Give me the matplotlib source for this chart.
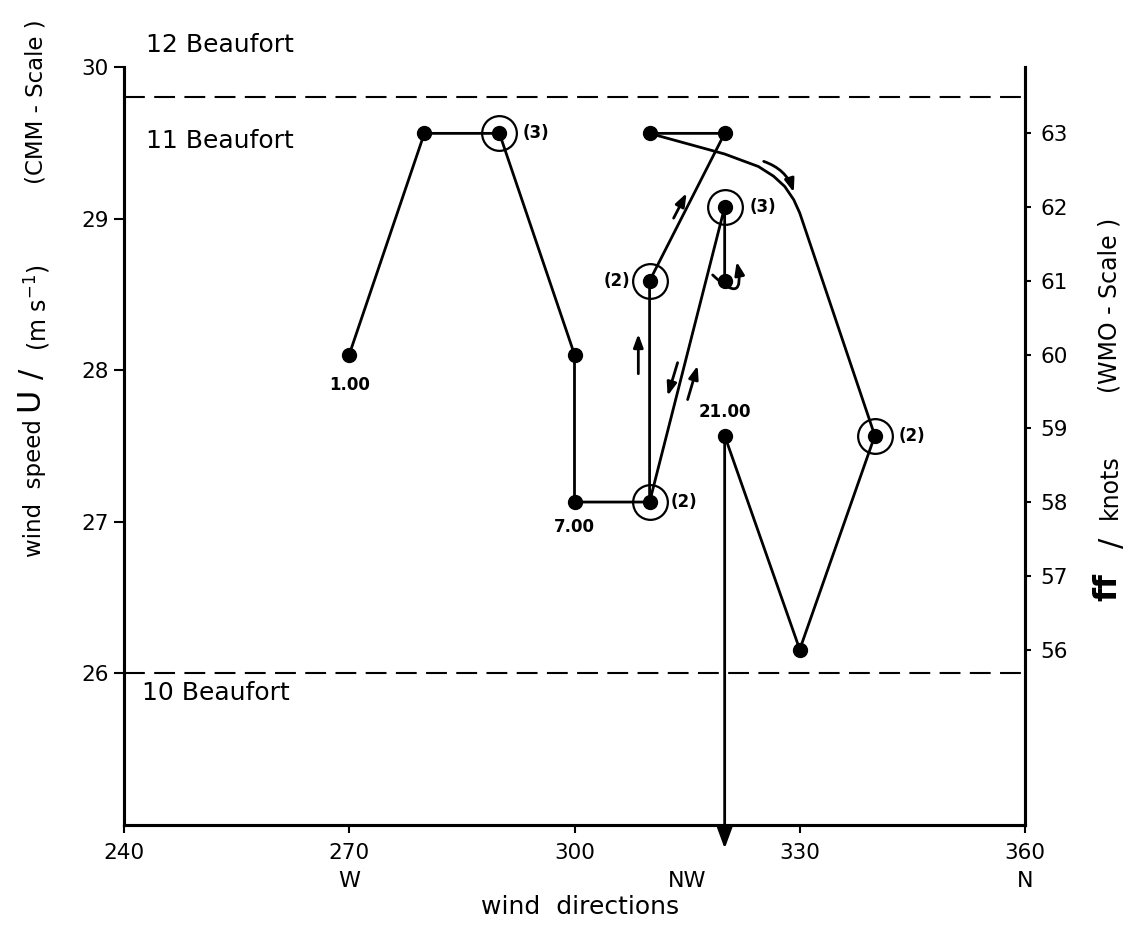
import numpy as np
import matplotlib.pyplot as plt
import matplotlib

matplotlib.rcParams['font.family'] = ['DejaVu Sans']

W, H = 1136, 944

# hourly wind observations: direction (deg) and speed (knots, WMO scale)
path1_dir = [270, 280, 290, 300, 300, 310, 310, 320, 310]
path1_kn = [60, 63, 63, 60, 58, 58, 61, 63, 63]
# veering phase after 13.00 (drawn as a bent track)
veer_dir = [310, 320, 324.5, 326.5, 328, 329.2, 330, 340]
veer_kn = [63, 62.72, 62.55, 62.42, 62.28, 62.1, 61.92, 58.9]
path2_dir = [340, 330, 320]
path2_kn = [58.9, 56, 58.9]
path3_dir = [310, 320, 320]
path3_kn = [58, 62, 61]

dot_dir = [270, 280, 290, 300, 300, 310, 310, 310, 320, 340, 320, 320, 330, 320]
dot_kn = [60, 63, 63, 60, 58, 58, 61, 63, 63, 58.9, 62, 61, 56, 58.9]

# repeated observations at one point
ring_dir = [290, 310, 310, 320, 340]
ring_kn = [63, 58, 61, 62, 58.9]
ring_count = ['(3)', '(2)', '(2)', '(3)', '(2)']

time_dir = [270, 300, 320]
time_kn = [60, 58, 58.9]
time_text = ['1.00', '7.00', '21.00']

# direction-of-motion arrows (tail -> head)
arrow_tail = [(313.2, 61.85), (308.5, 59.74), (313.73, 59.89), (315.07, 59.39)]
arrow_head = [(314.93, 62.19), (308.5, 60.28), (312.4, 59.44), (316.4, 59.85)]
veer_arrow = [(325.2, 62.62), (329.2, 62.2)]
curl_arrow = [(318.4, 61.08), (321.6, 61.26)]
drop_arrow = [(320, 58.9), (320, 53.3)]

beaufort_ms = [29.8, 26.0]
speed_ticks = [26, 27, 28, 29, 30]
knot_ticks = [56, 57, 58, 59, 60, 61, 62, 63]
dir_ticks = [240, 270, 300, 330, 360]
compass_dir = [270, 315, 360]
compass_text = ['W', 'NW', 'N']


def px(x, y):
    return x / W, 1 - y / H


fig = plt.figure(figsize=(W / 100, H / 100), dpi=100)
ax = fig.add_axes([124 / W, 1 - 825 / H, (1025 - 124) / W, (825 - 67) / H])
ax.set_xlim(240, 360)
ax.set_ylim(25, 30)
ax2 = ax.twinx()
ax2.set_ylim(53.62, 63.9)

for a in (ax, ax2):
    a.spines['top'].set_visible(False)
    for s in a.spines.values():
        s.set_linewidth(2.2)

ax.set_xticks(dir_ticks)
ax.set_yticks(speed_ticks)
ax2.set_yticks(knot_ticks)
ax.tick_params(axis='y', direction='out', length=7, width=1.5, pad=4, labelsize=15.5)
ax.tick_params(axis='x', direction='out', length=6, width=1.5, pad=7, labelsize=15.5)
ax2.tick_params(axis='y', direction='out', length=4, width=1.5, pad=7, labelsize=15.5)

# Beaufort boundaries
for b in beaufort_ms:
    ax.axhline(b, color='k', lw=1.5, dashes=(10, 4.5))

line_kw = dict(color='k', lw=2.0, solid_capstyle='round', solid_joinstyle='round')
ax2.plot(path1_dir, path1_kn, **line_kw)
ax2.plot(veer_dir, veer_kn, **line_kw)
ax2.plot(path2_dir, path2_kn, **line_kw)
ax2.plot(path3_dir, path3_kn, **line_kw)

ax2.plot(dot_dir, dot_kn, 'o', color='k', ms=10, zorder=5)
ax2.plot(ring_dir, ring_kn, 'o', mfc='none', mec='k', mew=1.6, ms=25, zorder=5)

ring_off = [(17, 0, 'left'), (15, 0, 'left'), (-14, 0, 'right'), (18, 0, 'left'), (17, 0, 'left')]
for d, k, t, (dx, dy, ha) in zip(ring_dir, ring_kn, ring_count, ring_off):
    ax2.annotate(t, (d, k), xytext=(dx, dy), textcoords='offset points',
                 ha=ha, va='center', fontsize=12, weight='bold')

time_off = [(0, -22), (0, -18), (0, 17)]
for d, k, t, (dx, dy) in zip(time_dir, time_kn, time_text, time_off):
    ax2.annotate(t, (d, k), xytext=(dx, dy), textcoords='offset points',
                 ha='center', va='center', fontsize=12, weight='bold')

small = dict(arrowstyle='-|>,head_length=0.6,head_width=0.22', color='k', lw=2,
             mutation_scale=13, shrinkA=0, shrinkB=0)
for t, h in zip(arrow_tail, arrow_head):
    ax2.annotate('', xy=h, xytext=t, arrowprops=small)
ax2.annotate('', xy=veer_arrow[1], xytext=veer_arrow[0],
             arrowprops=dict(small, connectionstyle='arc3,rad=-0.25'))
ax2.annotate('', xy=curl_arrow[1], xytext=curl_arrow[0],
             arrowprops=dict(small, connectionstyle='arc3,rad=1.6'), zorder=6)
ax2.annotate('', xy=drop_arrow[1], xytext=drop_arrow[0], annotation_clip=False,
             arrowprops=dict(arrowstyle='-|>,head_length=0.9,head_width=0.33', color='k',
                             lw=2, mutation_scale=14, shrinkA=0, shrinkB=0))

# text annotations
fig.text(*px(146, 45), '12 Beaufort', fontsize=18, va='center')
fig.text(*px(146, 141), '11 Beaufort', fontsize=18, va='center')
fig.text(*px(142, 693), '10 Beaufort', fontsize=18, va='center')

for d, t in zip(compass_dir, compass_text):
    ax.text(d, -0.074, t, transform=ax.get_xaxis_transform(), ha='center', va='center', fontsize=16)
fig.text(*px(580, 907), 'wind  directions', fontsize=18, ha='center', va='center')

# left axis label
fig.text(*px(36, 102), '(CMM - Scale )', rotation=90, fontsize=16.5, ha='center', va='center')
fig.text(*px(35, 488), 'wind  speed', rotation=90, fontsize=16.5, ha='center', va='center')
fig.text(*px(30, 399), 'U', rotation=90, fontsize=23, ha='center', va='center')
fig.text(*px(33, 374), '/', rotation=90, fontsize=22, ha='center', va='center')
fig.text(*px(38, 308), '(m s$^{-1}$)', rotation=90, fontsize=17, ha='center', va='center')

# right axis label
fig.text(*px(1110, 305), '(WMO - Scale )', rotation=90, fontsize=17, ha='center', va='center')
fig.text(*px(1110, 487), 'knots', rotation=90, fontsize=17, ha='center', va='center')
fig.text(*px(1112, 543), '/', rotation=90, fontsize=22, ha='center', va='center')
fig.text(*px(1108, 587), 'ff', rotation=90, fontsize=23, weight='bold', ha='center', va='center')

fig.savefig('out.png', dpi=100, facecolor='white')
